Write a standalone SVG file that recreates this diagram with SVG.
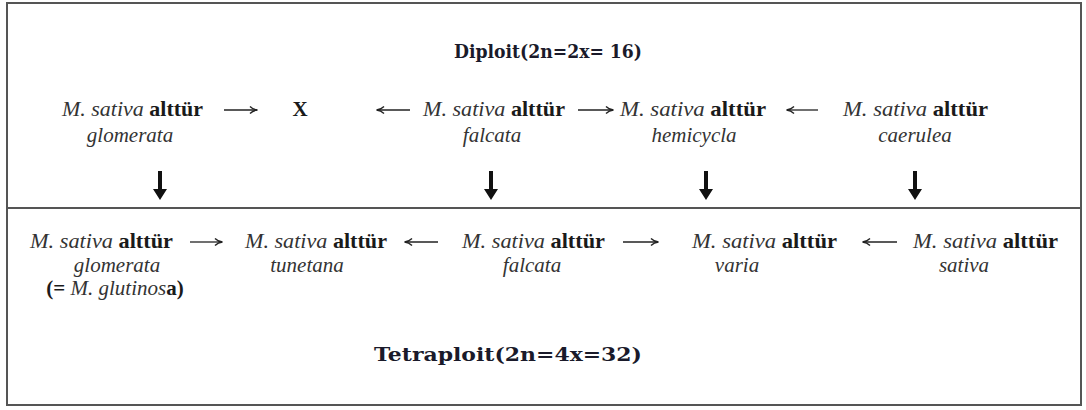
<svg xmlns="http://www.w3.org/2000/svg" width="1086" height="410" viewBox="0 0 1086 410">
  <style>
    .t { font-family: "Liberation Serif", "Times New Roman", serif; font-size: 21px; fill: #1a1a1a; }
    .i { font-style: italic; fill: #333; }
    .b { font-weight: bold; }
    .title { font-family: "DejaVu Serif", "Liberation Serif", serif; font-size: 18px; font-weight: bold; fill: #1a1a2a; }
    .h { stroke: #222; stroke-width: 1.3; fill: none; }
    .down { fill: #111; }
    .frame { fill: none; stroke: #555; stroke-width: 2; }
  </style>
  <defs>
    <marker id="head" viewBox="0 0 10 10" refX="9" refY="5" markerWidth="10" markerHeight="10" markerUnits="userSpaceOnUse" orient="auto">
      <path d="M2,1.5 Q5,4.5 9.5,5 Q5,5.5 2,8.5" fill="none" stroke="#222" stroke-width="1.4"/>
    </marker>
  </defs>
  <rect width="1086" height="410" fill="#fff"/>
  <rect class="frame" x="7" y="3" width="1074" height="402"/>
  <line x1="7" y1="208" x2="1081" y2="208" stroke="#555" stroke-width="2"/>

  <g id="title-diploit"><text class="title" x="548" y="58" text-anchor="middle" textLength="188" lengthAdjust="spacingAndGlyphs">Diploit(2n=2x= 16)</text></g>

  <g id="n-glomerata-2x">
    <text class="t" x="62" y="116" textLength="141" lengthAdjust="spacingAndGlyphs"><tspan class="i">M. sativa</tspan> <tspan class="b">alttür</tspan></text>
    <text class="t i" x="130" y="142" text-anchor="middle">glomerata</text>
  </g>
  <g id="n-x"><text class="t b" x="300" y="116" text-anchor="middle">X</text></g>
  <g id="n-falcata-2x">
    <text class="t" x="423" y="116" textLength="142" lengthAdjust="spacingAndGlyphs"><tspan class="i">M. sativa</tspan> <tspan class="b">alttür</tspan></text>
    <text class="t i" x="492" y="142" text-anchor="middle">falcata</text>
  </g>
  <g id="n-hemicycla">
    <text class="t" x="620" y="116" textLength="146" lengthAdjust="spacingAndGlyphs"><tspan class="i">M. sativa</tspan> <tspan class="b">alttür</tspan></text>
    <text class="t i" x="694" y="142" text-anchor="middle">hemicycla</text>
  </g>
  <g id="n-caerulea">
    <text class="t" x="843" y="116" textLength="145" lengthAdjust="spacingAndGlyphs"><tspan class="i">M. sativa</tspan> <tspan class="b">alttür</tspan></text>
    <text class="t i" x="915" y="142" text-anchor="middle">caerulea</text>
  </g>

  <g id="n-glomerata-4x">
    <text class="t" x="30" y="248" textLength="143" lengthAdjust="spacingAndGlyphs"><tspan class="i">M. sativa</tspan> <tspan class="b">alttür</tspan></text>
    <text class="t i" x="117" y="272" text-anchor="middle">glomerata</text>
    <text class="t" x="115" y="295" text-anchor="middle"><tspan class="b">(= </tspan><tspan class="i">M. glutinos</tspan><tspan class="b">a)</tspan></text>
  </g>
  <g id="n-tunetana">
    <text class="t" x="245" y="248" textLength="142" lengthAdjust="spacingAndGlyphs"><tspan class="i">M. sativa</tspan> <tspan class="b">alttür</tspan></text>
    <text class="t i" x="307" y="272" text-anchor="middle">tunetana</text>
  </g>
  <g id="n-falcata-4x">
    <text class="t" x="462" y="248" textLength="143" lengthAdjust="spacingAndGlyphs"><tspan class="i">M. sativa</tspan> <tspan class="b">alttür</tspan></text>
    <text class="t i" x="532" y="272" text-anchor="middle">falcata</text>
  </g>
  <g id="n-varia">
    <text class="t" x="692" y="248" textLength="145" lengthAdjust="spacingAndGlyphs"><tspan class="i">M. sativa</tspan> <tspan class="b">alttür</tspan></text>
    <text class="t i" x="737" y="272" text-anchor="middle">varia</text>
  </g>
  <g id="n-sativa">
    <text class="t" x="913" y="248" textLength="145" lengthAdjust="spacingAndGlyphs"><tspan class="i">M. sativa</tspan> <tspan class="b">alttür</tspan></text>
    <text class="t i" x="964" y="272" text-anchor="middle">sativa</text>
  </g>

  <g id="title-tetraploit"><text class="title" x="508" y="361" text-anchor="middle" textLength="268" lengthAdjust="spacingAndGlyphs">Tetraploit(2n=4x=32)</text></g>

  <g id="connectors">
    <line class="h" x1="224" y1="110" x2="257" y2="110" marker-end="url(#head)"/>
    <line class="h" x1="410" y1="110" x2="377" y2="110" marker-end="url(#head)"/>
    <line class="h" x1="578" y1="110" x2="613" y2="110" marker-end="url(#head)"/>
    <line class="h" x1="818" y1="110" x2="787" y2="110" marker-end="url(#head)"/>

    <line class="h" x1="190" y1="242" x2="222" y2="242" marker-end="url(#head)"/>
    <line class="h" x1="438" y1="242" x2="405" y2="242" marker-end="url(#head)"/>
    <line class="h" x1="623" y1="242" x2="658" y2="242" marker-end="url(#head)"/>
    <line class="h" x1="897" y1="242" x2="863" y2="242" marker-end="url(#head)"/>

    <path class="down" d="M158,171 h4 v18 h5 l-7,11 l-7,-11 h5 z"/>
    <path class="down" d="M489,171 h4 v18 h5 l-7,11 l-7,-11 h5 z"/>
    <path class="down" d="M704,171 h4 v18 h5 l-7,11 l-7,-11 h5 z"/>
    <path class="down" d="M913,171 h4 v18 h5 l-7,11 l-7,-11 h5 z"/>
  </g>
</svg>
